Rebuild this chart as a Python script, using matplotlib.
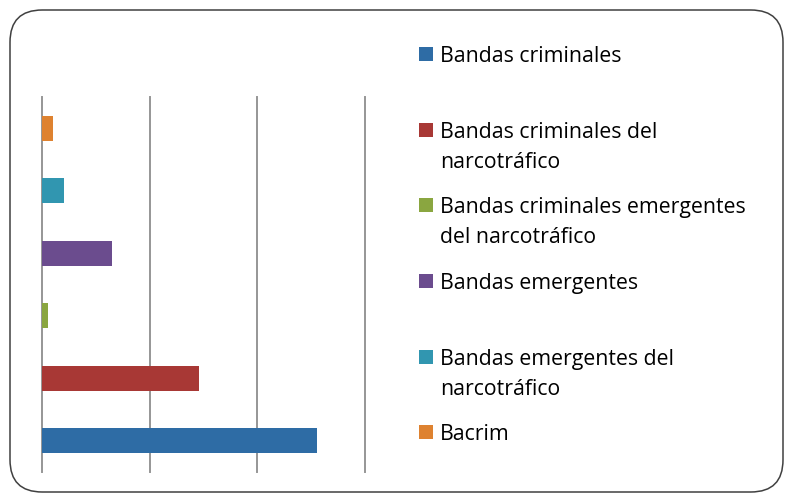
import matplotlib.pyplot as plt
from matplotlib.patches import FancyBboxPatch, Rectangle

# series (one bar each), bottom to top
series = ["Bandas criminales",
          "Bandas criminales del narcotráfico",
          "Bandas criminales emergentes del narcotráfico",
          "Bandas emergentes",
          "Bandas emergentes del narcotráfico",
          "Bacrim"]
values = [25.5, 14.6, 0.55, 6.5, 2.0, 1.0]
colors = ["#2E6CA5", "#A83835", "#8AA640", "#6B4C8E", "#3196B0", "#DE8230"]

# legend lines as they wrap
legend_lines = [["Bandas criminales"],
                ["Bandas criminales del", "narcotráfico"],
                ["Bandas criminales emergentes", "del narcotráfico"],
                ["Bandas emergentes"],
                ["Bandas emergentes del", "narcotráfico"],
                ["Bacrim"]]

W, H = 785, 493
fig = plt.figure(figsize=(W / 100, H / 100), dpi=100)

# rounded outer frame
frame = FancyBboxPatch((10 / W, 1 / H), 773 / W, 482 / H,
                       boxstyle="round,pad=0,rounding_size=0.041",
                       transform=fig.transFigure, facecolor="white",
                       edgecolor="#404040", linewidth=1.1,
                       mutation_aspect=W / H, zorder=-5)
fig.patches.append(frame)

ax = fig.add_axes([42 / W, 1 - 472 / H, 323 / W, 375 / H])
ax.patch.set_alpha(0)
ypos = list(range(len(values)))
ax.barh(ypos, values, height=0.4, color=colors, zorder=3)
ax.set_xlim(0, 30)
ax.set_ylim(-0.5, 5.5)
ax.set_xticks([0, 10, 20, 30])
ax.set_yticks([])
ax.tick_params(length=0, labelbottom=False)
ax.grid(axis="x", color="#969696", linewidth=1.4, zorder=1)
for gl in ax.get_xgridlines():
    gl.set_clip_on(False)
for s in ax.spines.values():
    s.set_visible(False)

# legend on the right
centers = [54, 130, 205, 281, 357, 432]
for lines, c, yc in zip(legend_lines, colors, centers):
    fig.patches.append(Rectangle((419 / W, 1 - (yc + 7) / H), 14 / W, 14 / H,
                                 transform=fig.transFigure, facecolor=c,
                                 edgecolor="none"))
    for i, line in enumerate(lines):
        fig.text(440 / W, 1 - (yc + 30 * i) / H, line, fontsize=15.3,
                 family="Open Sans", va="center_baseline", ha="left",
                 color="#000000")

fig.savefig("out.png", dpi=100)
